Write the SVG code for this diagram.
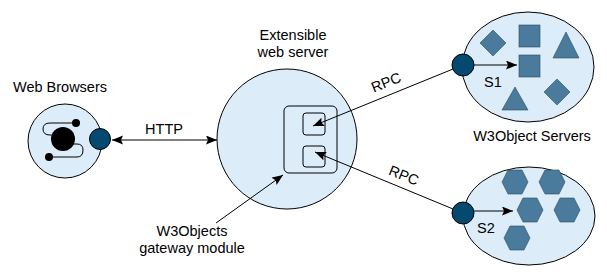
<svg xmlns="http://www.w3.org/2000/svg" width="607" height="278" viewBox="0 0 607 278">
<style>
.t{font-family:"Liberation Sans",Arial,sans-serif;font-size:14.5px;fill:#000}
.c{text-anchor:middle}
.light{fill:#dcedf9;stroke:#000;stroke-width:1}
.node{fill:#044a70;stroke:#000;stroke-width:1}
.shape{fill:#4a7a9c;stroke:#2a4a60;stroke-width:0.6}
.ln{stroke:#000;stroke-width:1;fill:none}
</style>
<defs>
<marker id="ah" markerUnits="userSpaceOnUse" markerWidth="12" markerHeight="10" refX="11" refY="4.5" orient="auto-start-reverse">
<path d="M0,0 L11,4.5 L0,9 L2,4.5 z" fill="#000"/>
</marker>
</defs>
<rect width="607" height="278" fill="#fff"/>
<g id="browsers">
<circle class="light" cx="65" cy="141" r="37"/>
<path class="ln" d="M76,123 H50 Q43,123 43,129 Q43,135 50,135 H60 M66,144 H77 Q83,144 83,150 Q83,157 77,157 H49"/>
<circle cx="63" cy="139" r="12" fill="#000"/>
<circle cx="76" cy="123" r="4" fill="#000"/>
<circle cx="49" cy="157" r="4" fill="#000"/>
<circle class="node" cx="100" cy="139" r="10.5"/>
<text class="t c" x="60" y="92">Web Browsers</text>
</g>
<g id="webserver">
<circle class="light" cx="287" cy="139" r="70"/>
<rect class="ln" x="284" y="106" width="53" height="67" rx="5"/>
<rect class="ln" x="303" y="113" width="22" height="22" rx="3"/>
<rect class="ln" x="303" y="146" width="22" height="21" rx="3"/>
<text class="t c" x="293" y="40">Extensible</text>
<text class="t c" x="293" y="57">web server</text>
</g>
<g id="gateway">
<text class="t c" x="192" y="236">W3Objects</text>
<text class="t c" x="192" y="253">gateway module</text>
</g>
<g id="s1">
<ellipse class="light" cx="528" cy="67" rx="66" ry="55"/>
<polygon class="shape" points="493,30 506,43 493,56 480,43"/>
<rect class="shape" x="519" y="25" width="21" height="22"/>
<rect class="shape" x="519" y="55" width="21" height="22"/>
<polygon class="shape" points="566,32 579,58 553,58"/>
<polygon class="shape" points="557,79 570,92 557,105 544,92"/>
<polygon class="shape" points="515,87 528,110 502,110"/>
<circle class="node" cx="463" cy="65" r="11"/>
<text class="t" x="484" y="87">S1</text>
</g>
<g id="s2">
<text class="t c" x="532" y="141">W3Object Servers</text>
<ellipse class="light" cx="529" cy="216" rx="66" ry="49"/>
<polygon class="shape" points="508,170 522,170 528,182 522,194 508,194 502,182"/>
<polygon class="shape" points="545,170 559,170 565,182 559,194 545,194 539,182"/>
<polygon class="shape" points="523,198 537,198 543,210 537,222 523,222 517,210"/>
<polygon class="shape" points="560,198 574,198 580,210 574,222 560,222 554,210"/>
<polygon class="shape" points="510,226 524,226 530,238 524,250 510,250 504,238"/>
<circle class="node" cx="463" cy="213" r="11"/>
<text class="t" x="477" y="233">S2</text>
</g>
<g id="connectors">
<line class="ln" x1="112" y1="140" x2="217" y2="140" marker-start="url(#ah)" marker-end="url(#ah)"/>
<text class="t c" x="164" y="134">HTTP</text>
<line class="ln" x1="452.8" y1="69.1" x2="313" y2="126" marker-end="url(#ah)"/>
<text class="t c" transform="translate(388,87) rotate(-22)">RPC</text>
<line class="ln" x1="452.8" y1="208.9" x2="315" y2="152" marker-end="url(#ah)"/>
<text class="t c" transform="translate(402,180) rotate(22)">RPC</text>
<line class="ln" x1="216" y1="223" x2="283" y2="175" marker-end="url(#ah)"/>
<line class="ln" x1="474" y1="65" x2="517" y2="65" marker-end="url(#ah)"/>
<line class="ln" x1="474" y1="211" x2="513" y2="211" marker-end="url(#ah)"/>
</g>
</svg>
